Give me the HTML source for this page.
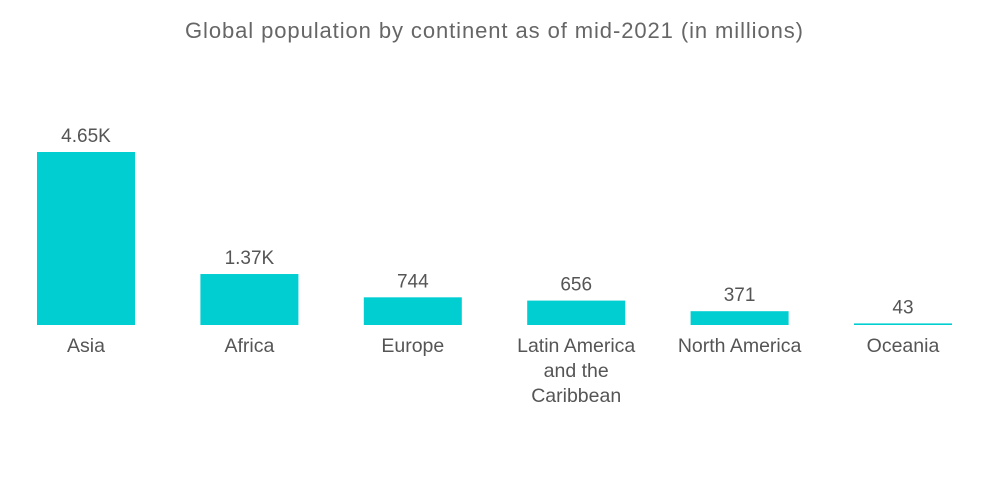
<!DOCTYPE html>
<html><head><meta charset="utf-8"><style>
body{margin:0;background:#fff;}
svg{display:block;font-family:"Liberation Sans",sans-serif;}
</style></head><body>
<svg id="chart" width="1000" height="504">
<text x="494" y="38" text-anchor="middle" font-size="22" textLength="618" lengthAdjust="spacing" fill="#666">Global population by continent as of mid-2021 (in millions)</text>
<g id="bars"></g>
</svg>
<script>
const categories=[["Asia"],["Africa"],["Europe"],["Latin America","and the","Caribbean"],["North America"],["Oceania"]];
const values=[4650,1370,744,656,371,43];
const valueLabels=["4.65K","1.37K","744","656","371","43"];
const ns="http://www.w3.org/2000/svg";
const g=document.getElementById('bars');
const baseY=325, maxH=173, maxV=4650;
const x0=37, step=163.4, bw=98;
function xScale(i){return x0+i*step;}
function yScale(v){return baseY-v/maxV*maxH;}
values.forEach((v,i)=>{
  const r=document.createElementNS(ns,'rect');
  const y=Math.min(yScale(v),baseY-1);
  r.setAttribute('x',xScale(i));r.setAttribute('y',y);
  r.setAttribute('width',bw);r.setAttribute('height',baseY-y);
  r.setAttribute('fill','#00CED1');
  
  
  g.appendChild(r);
  const t=document.createElementNS(ns,'text');
  t.setAttribute('x',xScale(i)+bw/2);t.setAttribute('y',y-10);
  t.setAttribute('text-anchor','middle');t.setAttribute('font-size','19');t.setAttribute('fill','#555');
  t.textContent=valueLabels[i];
  
  
  g.appendChild(t);
  categories[i].forEach((line,j)=>{
    const c=document.createElementNS(ns,'text');
    c.setAttribute('x',xScale(i)+bw/2);c.setAttribute('y',352+j*25);
    c.setAttribute('text-anchor','middle');c.setAttribute('font-size','19.5');c.setAttribute('fill','#555');
    c.textContent=line;
    
    
    g.appendChild(c);
  });
});
</script>
</body></html>
